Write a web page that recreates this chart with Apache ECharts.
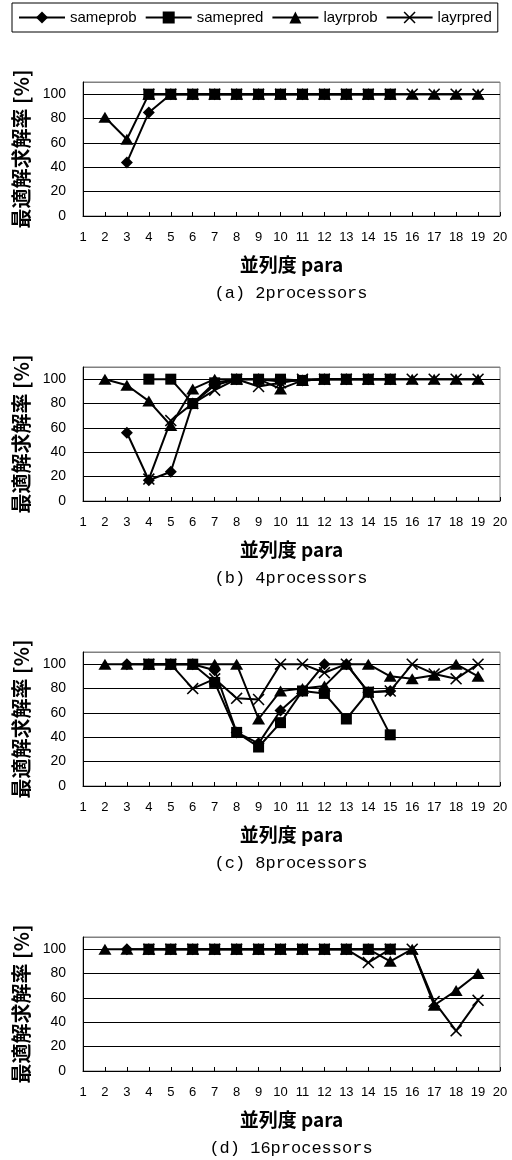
<!DOCTYPE html>
<html>
<head>
<meta charset="utf-8">
<script src="https://cdn.jsdelivr.net/npm/echarts@6/dist/echarts.min.js"></script>
<style>
  html, body { margin: 0; padding: 0; background: #fff; }
  #main { width: 512px; height: 1160px; }
</style>
</head>
<body>
<div id="main"></div>
<script>
// 並列度 para (x)
var paras = [2, 3, 4, 5, 6, 7, 8, 9, 10, 11, 12, 13, 14, 15, 16, 17, 18, 19];
var xTicks = [1, 20];
var yTicks = [0, 110];
var names = ['sameprob', 'samepred', 'layrprob', 'layrpred'];
var captions = ['(a) 2processors', '(b) 4processors', '(c) 8processors', '(d) 16processors'];

// (a) 2processors
var sameprobA = [null, 44, 85, 100, 100, 100, 100, 100, 100, 100, 100, 100, 100, 100, null, null, null, null];
var samepredA = [null, null, 100, 100, 100, 100, 100, 100, 100, 100, 100, 100, 100, 100, null, null, null, null];
var layrprobA = [81, 63, 100, 100, 100, 100, 100, 100, 100, 100, 100, 100, 100, 100, 100, 100, 100, 100];
var layrpredA = [null, null, 100, 100, 100, 100, 100, 100, 100, 100, 100, 100, 100, 100, 100, 100, 100, 100];

// (b) 4processors
var sameprobB = [null, 56, 17, 24, 80, 95, 100, 100, 98, 99, 100, 100, 100, 100, null, null, null, null];
var samepredB = [null, null, 100, 100, 80, 97, 100, 100, 100, 99, 100, 100, 100, 100, null, null, null, null];
var layrprobB = [100, 95, 82, 62, 92, 100, 100, 100, 92, 99, 100, 100, 100, 100, 100, 100, 100, 100];
var layrpredB = [null, null, 18, 66, 80, 91, 100, 94, 97, 100, 100, 100, 100, 100, 100, 100, 100, 100];

// (c) 8processors
var sameprobC = [null, 100, 100, 100, 100, 95, 44, 35, 62, 78, 100, 100, 77, 78, null, null, null, null];
var samepredC = [null, null, 100, 100, 100, 85, 44, 32, 52, 78, 76, 55, 77, 42, null, null, null, null];
var layrprobC = [100, 100, 100, 100, 100, 100, 100, 55, 78, 80, 82, 100, 100, 90, 88, 91, 100, 90];
var layrpredC = [null, null, 100, 100, 80, 88, 72, 71, 100, 100, 93, 100, 77, 78, 100, 92, 88, 100];

// (d) 16processors
var sameprobD = [null, 100, 100, 100, 100, 100, 100, 100, 100, 100, 100, 100, 100, 100, null, null, null, null];
var samepredD = [null, null, 100, 100, 100, 100, 100, 100, 100, 100, 100, 100, 100, 100, null, null, null, null];
var layrprobD = [100, 100, 100, 100, 100, 100, 100, 100, 100, 100, 100, 100, 100, 90, 100, 54, 66, 80];
var layrpredD = [null, null, 100, 100, 100, 100, 100, 100, 100, 100, 100, 100, 89, 100, 100, 57, 33, 58];

var panels = [
  [sameprobA, samepredA, layrprobA, layrpredA],
  [sameprobB, samepredB, layrprobB, layrpredB],
  [sameprobC, samepredC, layrprobC, layrpredC],
  [sameprobD, samepredD, layrprobD, layrpredD]
];

var crossPath = 'path://M0,1.1L1.1,0L6,4.9L10.9,0L12,1.1L7.1,6L12,10.9L10.9,12L6,7.1L1.1,12L0,10.9L4.9,6Z';
var symbols = ['diamond', 'rect', 'triangle', crossPath];
var symbolSizes = [12, 11, [13, 11], 12];

var latin = '"Liberation Sans", "Noto Sans CJK JP", sans-serif';
var cjk = '"Noto Sans CJK JP", sans-serif';

var chart = echarts.init(document.getElementById('main'));

var grids = [], xAxes = [], yAxes = [], series = [], graphics = [];
var tops = [82, 367, 652, 937];
var gridH = 134;

panels.forEach(function (panel, p) {
  grids.push({ left: 83, width: 417, top: tops[p], height: gridH, show: true, borderColor: '#808080', borderWidth: 1 });
  xAxes.push({
    gridIndex: p, type: 'value', min: xTicks[0], max: xTicks[1], interval: 1,
    name: '並列度 para', nameLocation: 'middle', nameGap: 39,
    nameTextStyle: { fontFamily: cjk, fontSize: 19, fontWeight: 'bold', color: '#000' },
    axisLine: { lineStyle: { color: '#000', width: 1 } },
    axisTick: { inside: true, length: 4, lineStyle: { color: '#000' } },
    axisLabel: { margin: 15, fontFamily: latin, fontSize: 13, color: '#000' },
    splitLine: { show: false }
  });
  yAxes.push({
    gridIndex: p, type: 'value', min: yTicks[0], max: yTicks[1], interval: 20,
    name: '最適解求解率 [%]', nameLocation: 'middle', nameGap: 51,
    nameTextStyle: { fontFamily: cjk, fontSize: 20, fontWeight: 'bold', color: '#000' },
    axisLine: { show: true, lineStyle: { color: '#000', width: 1 } },
    axisTick: { show: false },
    axisLabel: {
      margin: 17, fontFamily: latin, fontSize: 14, color: '#000',
      formatter: function (v) { return v > 100 ? '' : v; }
    },
    splitLine: { show: true, lineStyle: { color: ['#000', '#000', '#000', '#000', '#000', '#000', '#808080'], width: 1 } }
  });
  panel.forEach(function (vals, s) {
    series.push({
      name: names[s], type: 'line', xAxisIndex: p, yAxisIndex: p,
      data: paras.map(function (x, i) { return [x, vals[i]]; }),
      symbol: symbols[s], symbolSize: symbolSizes[s],
      showAllSymbol: true, connectNulls: false, animation: false,
      lineStyle: { color: '#000', width: 2 },
      itemStyle: { color: '#000' }
    });
  });
  graphics.push({
    type: 'text', x: 291, y: tops[p] + gridH + 69,
    style: { text: captions[p], fill: '#000', font: '17px "Liberation Mono", "DejaVu Sans Mono", monospace', textAlign: 'center' }
  });
});

var option = {
  backgroundColor: '#fff',
  animation: false,
  legend: {
    data: names, left: 12, top: 3,
    orient: 'horizontal',
    borderColor: '#000', borderWidth: 1, padding: [7, 6],
    itemWidth: 46, itemHeight: 15, itemGap: 8,
    textStyle: { fontFamily: latin, fontSize: 15, color: '#000' }
  },
  grid: grids,
  xAxis: xAxes,
  yAxis: yAxes,
  series: series,
  graphic: graphics
};

chart.setOption(option);
</script>
</body>
</html>
